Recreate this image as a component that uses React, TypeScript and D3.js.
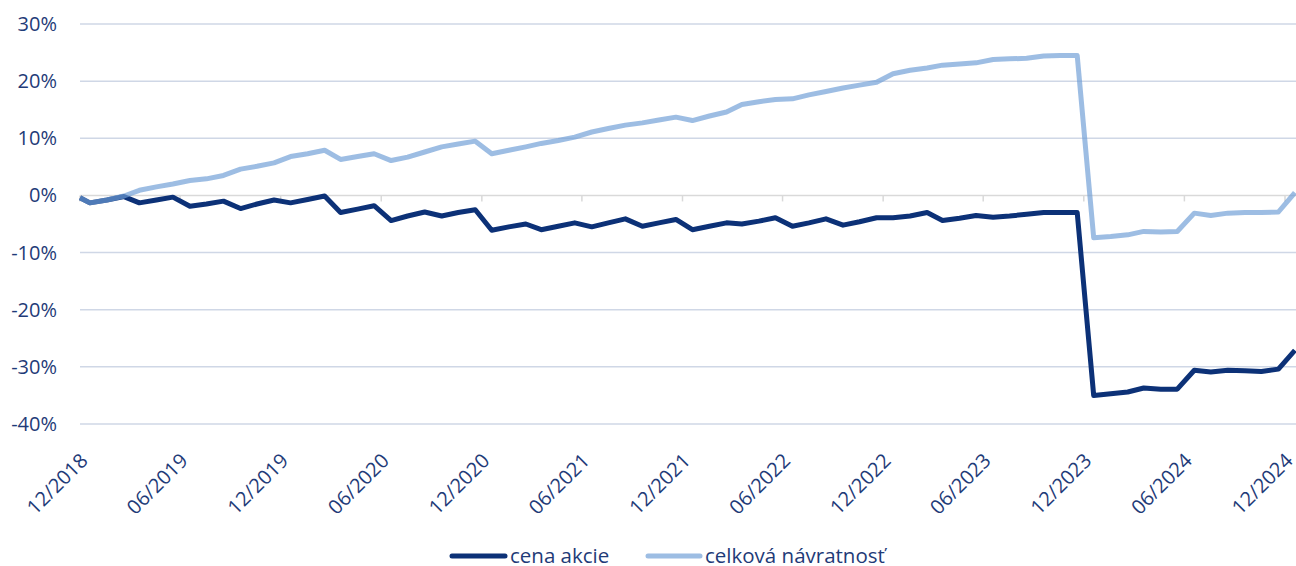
import React from "react";
import * as d3 from "d3";

// monthly observations; first value sits on the 12/2018 tick, the rest ~19th of each month
const startDate = new Date(2018, 11, 1);
const obsDates = [startDate, ...d3.range(73).map((k) => new Date(2018, 11 + k, 19))];

const cenaAkcie = [
  -0.4, -1.3, -0.8, -0.2, -1.3, -0.8, -0.3, -1.9, -1.5, -1.0, -2.3, -1.5, -0.8, -1.3, -0.7,
  -0.1, -3.0, -2.4, -1.8, -4.4, -3.6, -2.9, -3.6, -3.0, -2.5, -6.1, -5.5, -5.0, -6.0, -5.4,
  -4.8, -5.5, -4.8, -4.1, -5.4, -4.8, -4.2, -6.0, -5.4, -4.8, -5.0, -4.5, -3.9, -5.4, -4.8,
  -4.1, -5.2, -4.6, -3.9, -3.9, -3.6, -3.0, -4.4, -4.0, -3.5, -3.8, -3.6, -3.3, -3.0, -3.0,
  -3.0, -35.0, -34.7, -34.4, -33.7, -33.9, -33.9, -30.6, -30.9, -30.6, -30.7, -30.8, -30.4,
  -27.1,
];

const celkovaNavratnost = [
  -0.4, -1.3, -0.8, -0.1, 0.9, 1.5, 2.0, 2.6, 2.9, 3.5, 4.6, 5.1, 5.7, 6.8, 7.3, 7.9, 6.3,
  6.8, 7.3, 6.1, 6.7, 7.6, 8.5, 9.0, 9.5, 7.3, 7.9, 8.5, 9.1, 9.6, 10.2, 11.1, 11.7, 12.3,
  12.7, 13.2, 13.7, 13.1, 13.9, 14.6, 15.9, 16.4, 16.8, 16.9, 17.6, 18.2, 18.8, 19.3, 19.8,
  21.3, 21.9, 22.3, 22.8, 23.0, 23.2, 23.8, 23.9, 24.0, 24.4, 24.5, 24.5, -7.4, -7.2, -6.9,
  -6.3, -6.4, -6.3, -3.1, -3.5, -3.1, -3.0, -3.0, -2.9, 0.5,
];

const yTicks = [30, 20, 10, 0, -10, -20, -30, -40];
const xTickDates = d3.range(13).map((i) => new Date(2018, 11 + i * 6, 1));
const fmtTick = d3.timeFormat("%m/%Y");

const series = [
  { name: "cena akcie", values: cenaAkcie, color: "#0c3177", opacity: 1 },
  { name: "celková návratnosť", values: celkovaNavratnost, color: "#6f9ed6", opacity: 0.68 },
];

const W = 1296;
const H = 566;
const font = "'Open Sans', 'Noto Sans', sans-serif";
const textColor = "#1f3b78";

export default function App() {
  const x = d3.scaleTime().domain([xTickDates[0], xTickDates[12]]).range([80, 1285]);
  const y = d3.scaleLinear().domain([-40, 30]).range([424, 24]);

  const line = d3
    .line<number>()
    .x((_, i) => x(obsDates[i]))
    .y((d) => y(d));

  return (
    <svg
      width={W}
      height={H}
      style={{ position: "absolute", left: 0, top: 0, background: "#fff" }}
      fontFamily={font}
    >
      {/* gridlines */}
      {yTicks
        .filter((t) => t !== 0)
        .map((t) => (
          <line key={t} x1={80} x2={W} y1={y(t)} y2={y(t)} stroke="#cfd7e6" strokeWidth={1.5} />
        ))}
      {/* y labels */}
      {yTicks.map((t) => (
        <text
          key={"l" + t}
          x={57}
          y={y(t)}
          dy="0.35em"
          textAnchor="end"
          fontSize={20}
          fill={textColor}
        >
          {t}%
        </text>
      ))}
      {/* category axis on zero */}
      <line x1={80} x2={W} y1={y(0)} y2={y(0)} stroke="#d9d9d9" strokeWidth={1.5} />
      {xTickDates.map((d, i) => (
        <line
          key={"t" + i}
          x1={x(d)}
          x2={x(d)}
          y1={y(0)}
          y2={y(0) + 6}
          stroke="#d9d9d9"
          strokeWidth={1.5}
        />
      ))}
      {/* x labels */}
      {xTickDates.map((d, i) => (
        <text
          key={"x" + i}
          transform={`translate(${x(d) + 9},${462}) rotate(-45)`}
          textAnchor="end"
          fontSize={20}
          fill={textColor}
        >
          {fmtTick(d)}
        </text>
      ))}
      {/* lines */}
      {series.map((s) => (
        <path
          key={s.name}
          d={line(s.values) || ""}
          fill="none"
          stroke={s.color}
          strokeOpacity={s.opacity}
          strokeWidth={5}
          strokeLinejoin="round"
        />
      ))}
      {/* legend */}
      <g transform="translate(452,556)">
        <line x1={0} x2={53} y1={0} y2={0} stroke={series[0].color} strokeWidth={5} strokeLinecap="round" />
        <text x={58} y={0} dy="0.35em" fontSize={20.5} fill={textColor}>
          {series[0].name}
        </text>
        <line
          x1={196}
          x2={248}
          y1={0}
          y2={0}
          stroke={series[1].color}
          strokeOpacity={series[1].opacity}
          strokeWidth={5}
          strokeLinecap="round"
        />
        <text x={253} y={0} dy="0.35em" fontSize={20.5} fill={textColor}>
          {series[1].name}
        </text>
      </g>
    </svg>
  );
}
